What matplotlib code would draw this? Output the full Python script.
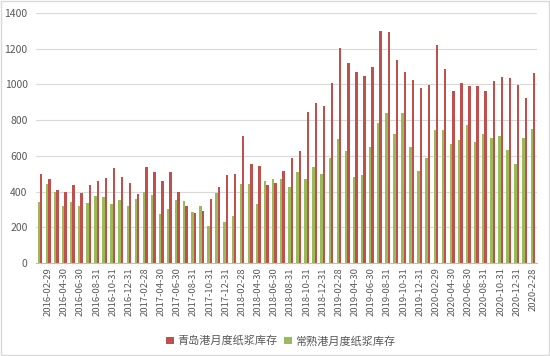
import numpy as np
import matplotlib.pyplot as plt
from matplotlib.patches import Rectangle

plt.rcParams['font.family'] = ['Noto Sans CJK SC', 'DejaVu Sans']

# 62 monthly observations; every other one carries a label
tick_labels = [
    "2016-02-29", "2016-04-30", "2016-06-30", "2016-08-31", "2016-10-31", "2016-12-31",
    "2017-02-28", "2017-04-30", "2017-06-30", "2017-08-31", "2017-10-31", "2017-12-31",
    "2018-02-28", "2018-04-30", "2018-06-30", "2018-08-31", "2018-10-31", "2018-12-31",
    "2019-02-28", "2019-04-30", "2019-06-30", "2019-08-31", "2019-10-31", "2019-12-31",
    "2020-02-29", "2020-04-30", "2020-06-30", "2020-08-31", "2020-10-31", "2020-12-31",
    "2020-2-28",
]

qingdao = [
    500, 470, 408, 400, 438, 393, 437, 462, 476, 530,
    482, 447, 387, 538, 510, 460, 510, 398, 317, 281,
    293, 358, 426, 491, 500, 709, 556, 543, 437, 446,
    513, 586, 629, 847, 896, 877, 1008, 1204, 1120, 1068,
    1049, 1096, 1301, 1292, 1139, 1068, 1027, 982, 999, 1219,
    1086, 961, 1008, 989, 993, 963, 1019, 1042, 1038, 995,
    922, 1062,
]

changshu = [
    340, 445, 400, 320, 340, 318, 335, 378, 368, 330,
    355, 320, 360, 400, 383, 277, 302, 355, 345, 288,
    321, 209, 392, 228, 265, 444, 444, 330, 461, 470,
    470, 424, 510, 470, 538, 500, 586, 692, 629, 483,
    493, 648, 784, 840, 722, 840, 651, 517, 586, 747,
    747, 668, 691, 773, 676, 722, 698, 713, 635, 553,
    698, 749,
]

red = "#C0504D"
green = "#9BBB59"

x = np.arange(len(qingdao))
w = 0.3

fig = plt.figure(figsize=(5.5, 3.56), dpi=100)
ax = fig.add_axes([36 / 550, 93 / 356, 501 / 550, 250 / 356])

ax.bar(x - w / 2, changshu, width=w, color=green, label="常熟港月度纸浆库存", zorder=3)
ax.bar(x + w / 2, qingdao, width=w, color=red, label="青岛港月度纸浆库存", zorder=3)

ax.set_xlim(-0.5, len(x) - 0.5)
ax.set_ylim(0, 1400)
ax.set_yticks(range(0, 1401, 200))
ax.yaxis.grid(True, color="#D9D9D9", linewidth=0.8, zorder=0)
ax.set_axisbelow(True)

ax.set_xticks(x[1::2])
ax.set_xticklabels(tick_labels, rotation=90, fontsize=6.8, color="#595959")
ax.tick_params(axis="x", length=0, pad=3)
ax.tick_params(axis="y", length=0, labelsize=7.5, labelcolor="#595959", pad=6)

for s in ["top", "right", "left"]:
    ax.spines[s].set_visible(False)
ax.spines["bottom"].set_color("#BFBFBF")

handles, labels = ax.get_legend_handles_labels()
fig.legend(handles[::-1], labels[::-1], loc="center", bbox_to_anchor=(0.51, 0.042),
           ncol=2, frameon=False, fontsize=8, handlelength=0.7, handleheight=0.7,
           handletextpad=0.3, columnspacing=0.6, labelcolor="#595959")

fig.patches.append(Rectangle((0.002, 0.003), 0.996, 0.994, transform=fig.transFigure,
                             fill=False, edgecolor="#D9D9D9", linewidth=1))

fig.savefig("out.png", dpi=100)
